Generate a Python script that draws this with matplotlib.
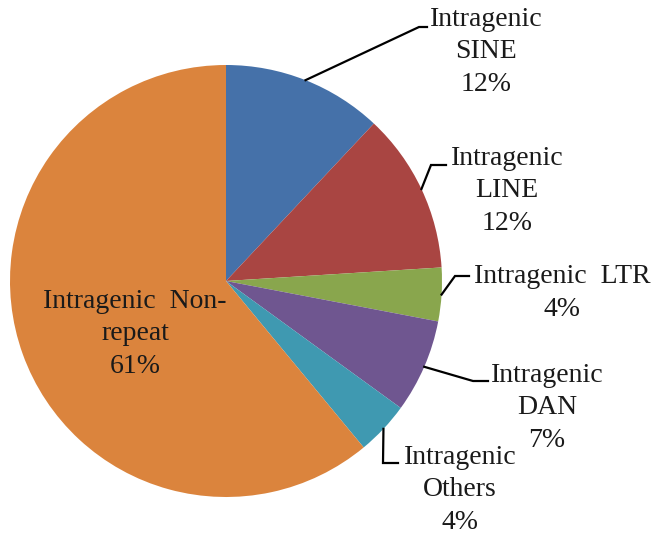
import numpy as np
import matplotlib
matplotlib.use("Agg")
import matplotlib.pyplot as plt

# Share of intragenic regions by repeat class
categories = ["Intragenic\nSINE", "Intragenic\nLINE", "Intragenic  LTR", "Intragenic\nDAN",
              "Intragenic\nOthers", "Intragenic  Non-\nrepeat"]
shares = [12, 12, 4, 7, 4, 61]
colors = ["#4571A9", "#A94542", "#89A64D", "#6F5690", "#3F99B1", "#DB843D"]

W, H = 657, 539
CX, CY, R = 226, 281, 216   # pie centre and radius in pixels


def px(x, y):
    """pixel position -> data coords (pie centre at 0,0, radius 1)"""
    return (x - CX) / R, (CY - y) / R


# label block centres (pixels) and leader elbows (pixels); None = label inside slice
label_pos = [(486, 52), (507, 191), (562, 293), (547, 408), (460, 490), (135, 334)]
elbows = [[(419, 27), (427, 27)],
          [(431, 165), (446, 165)],
          [(455, 276), (469, 276)],
          [(473, 381), (488, 381)],
          [(383, 463), (398, 463)],
          None]

fig = plt.figure(figsize=(W / 100, H / 100), dpi=100)
ax = fig.add_axes([0, 0, 1, 1])

wedges, _ = ax.pie(shares, colors=colors, startangle=90, counterclock=False,
                   radius=1, center=(0, 0), wedgeprops=dict(linewidth=0))

for w, cat, val, pos, elb in zip(wedges, categories, shares, label_pos, elbows):
    tx, ty = px(*pos)
    ax.text(tx, ty, f"{cat}\n{val}%", ha="center", va="center", multialignment="center",
            fontsize=20, family="Liberation Serif", color="#1a1a1a", linespacing=1.38)
    if elb is None:
        continue
    mid = np.deg2rad((w.theta1 + w.theta2) / 2)
    xs = [np.cos(mid)] + [px(*p)[0] for p in elb]
    ys = [np.sin(mid)] + [px(*p)[1] for p in elb]
    ax.plot(xs, ys, color="black", lw=1.6, solid_joinstyle="miter")

ax.set_xlim(-CX / R, (W - CX) / R)
ax.set_ylim(-(H - CY) / R, CY / R)
ax.set_aspect("equal")
ax.axis("off")

fig.savefig("out.png", dpi=100)
